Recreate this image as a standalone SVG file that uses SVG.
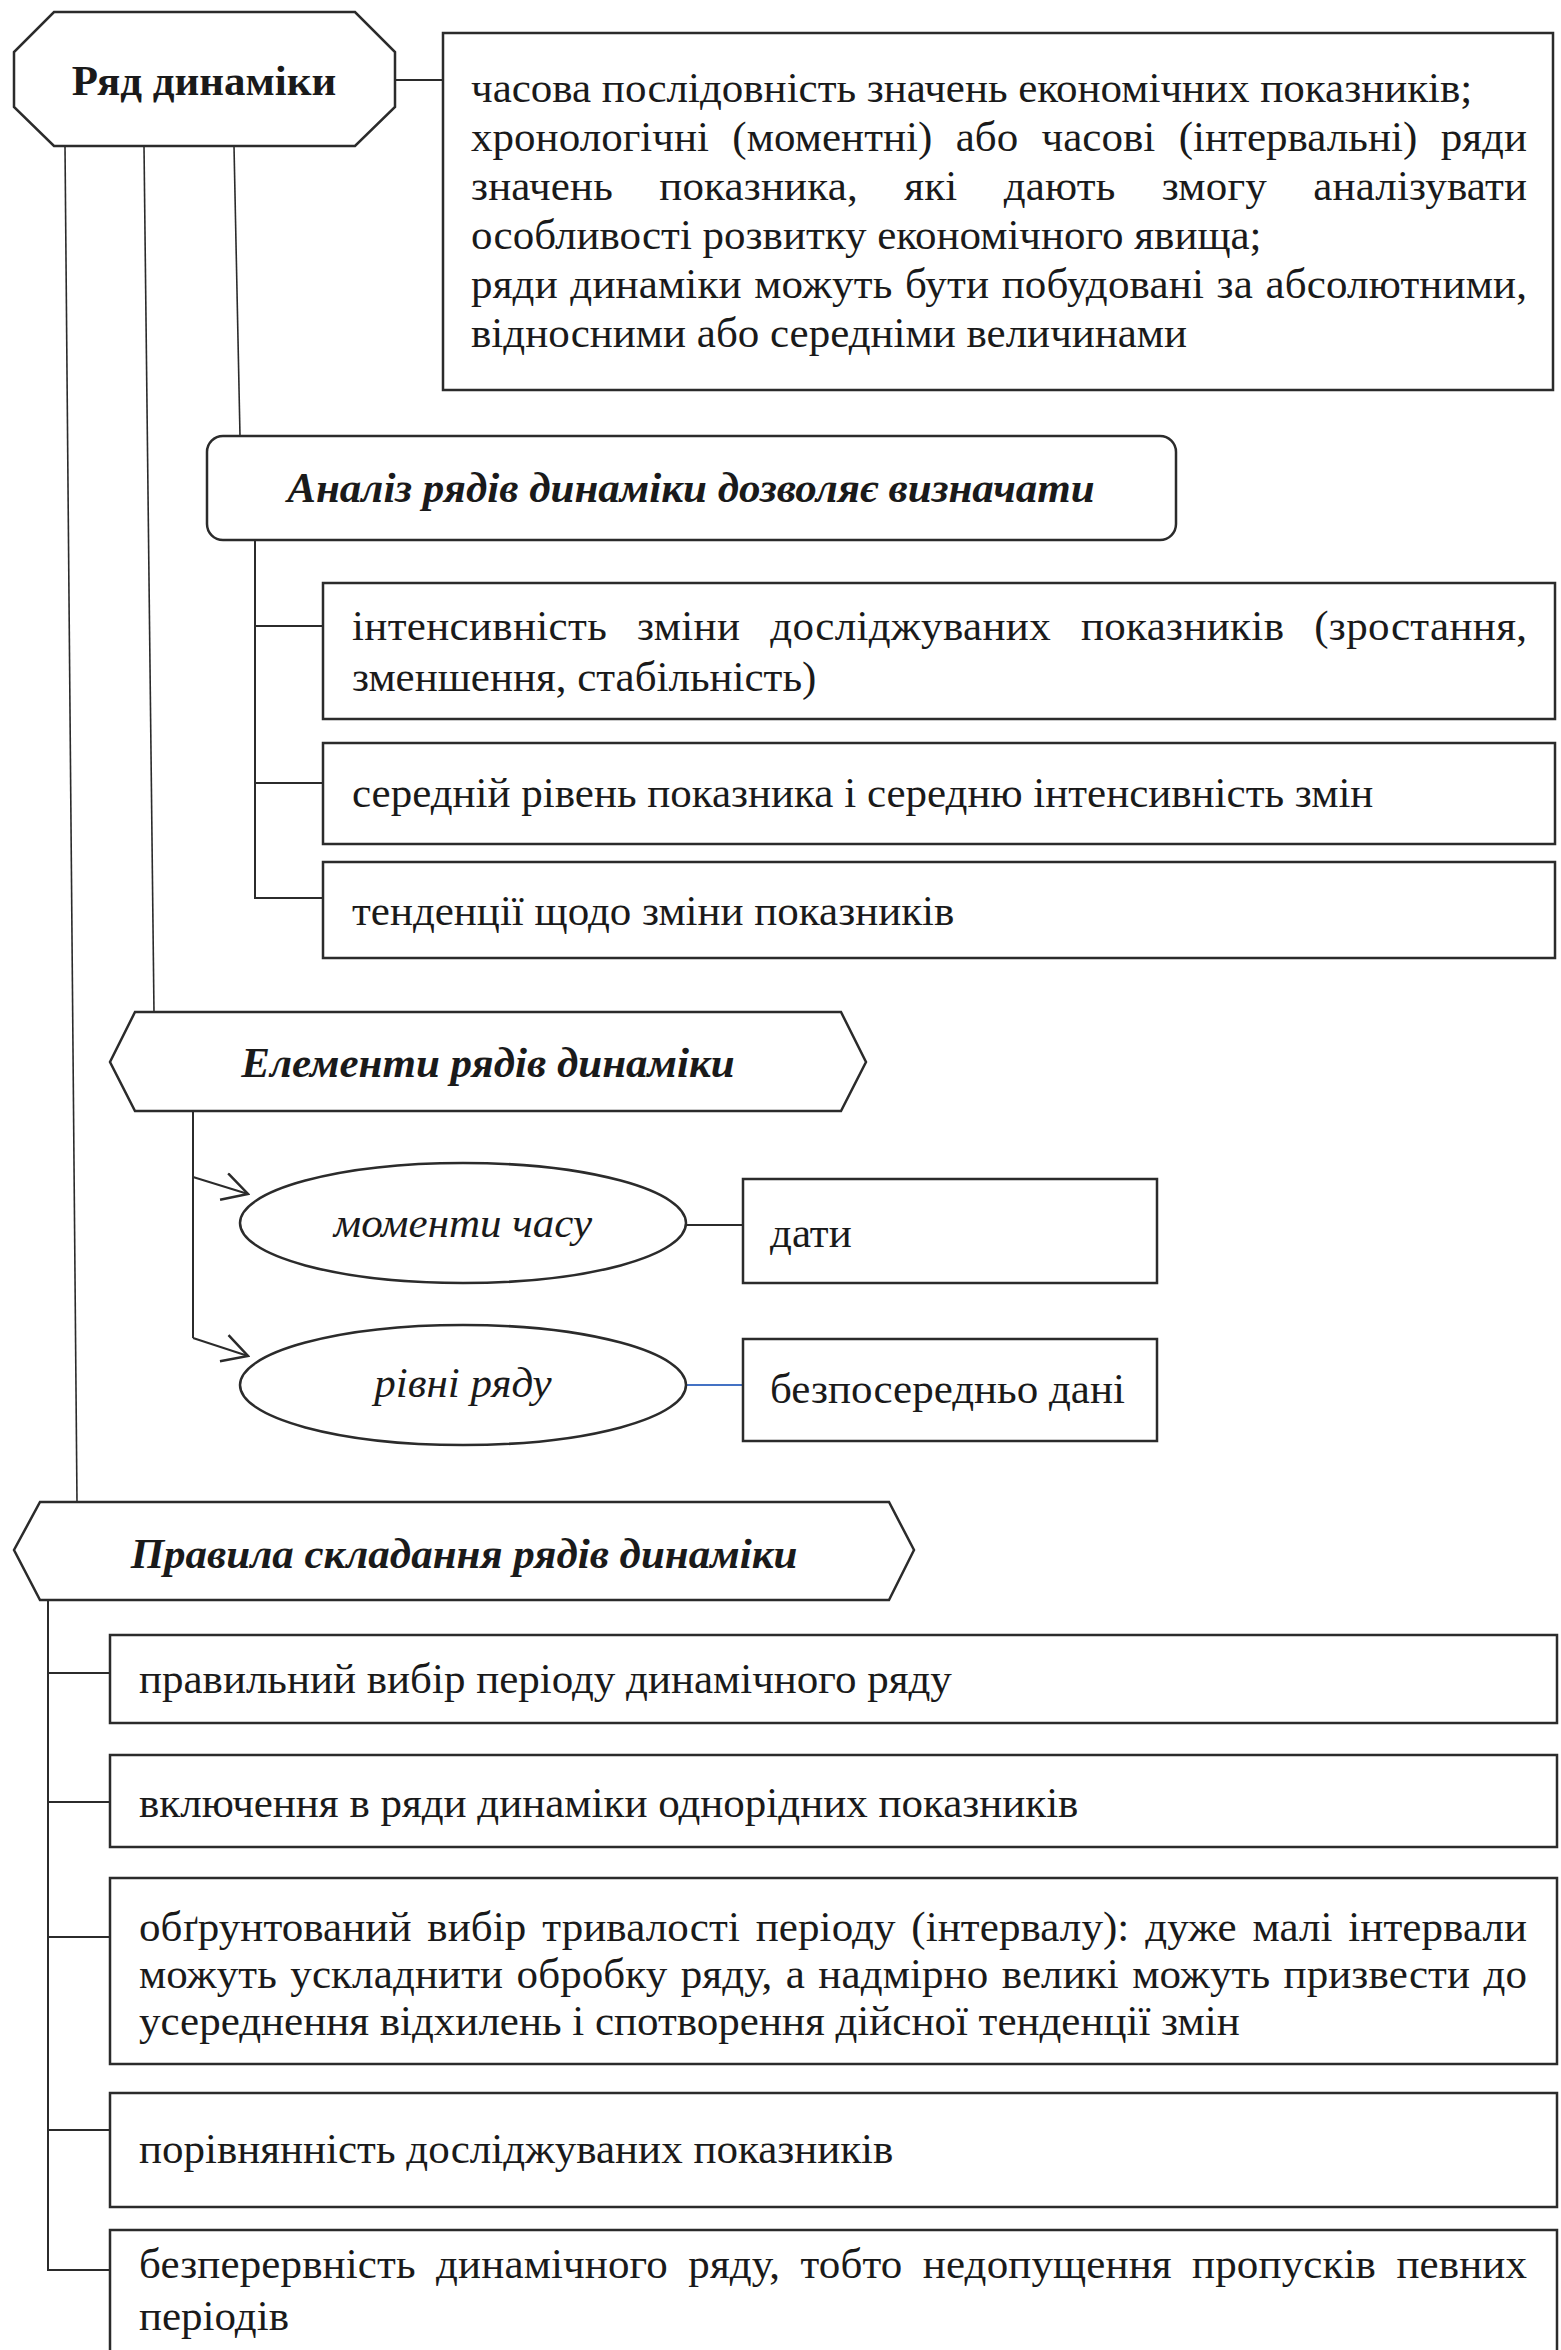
<svg xmlns="http://www.w3.org/2000/svg" width="1561" height="2350" viewBox="0 0 1561 2350">
<style>
.bg{fill:#ffffff}
.box{fill:#ffffff;stroke:#2b2b2b;stroke-width:2.5}
.con{fill:none;stroke:#2b2b2b;stroke-width:2}
.thin{fill:none;stroke:#2b2b2b;stroke-width:1.6}
.blue{fill:none;stroke:#4472c4;stroke-width:2}
text{font-family:"Liberation Serif","Times New Roman",serif;font-size:43px;fill:#1a1a1a}
.b{font-weight:bold}
.bi{font-weight:bold;font-style:italic}
.i{font-style:italic}
.c{text-anchor:middle}
</style>
<defs>
<marker id="arr" markerUnits="userSpaceOnUse" markerWidth="30" markerHeight="30" viewBox="0 0 24 24" refX="22" refY="12" orient="auto">
<path d="M2,1 L22,12 L2,23" fill="none" stroke="#2b2b2b" stroke-width="2"/>
</marker>
</defs>
<rect class="bg" x="0" y="0" width="1561" height="2350"/>

<g id="connectors">
<line class="con" x1="395" y1="80" x2="443" y2="80" stroke-width="3"/>
<line class="thin" x1="65" y1="146" x2="77" y2="1502"/>
<line class="thin" x1="144" y1="146" x2="154" y2="1012"/>
<line class="thin" x1="234" y1="146" x2="240" y2="436"/>
<path class="con" d="M255,541 L255,898 L323,898"/>
<line class="con" x1="255" y1="626" x2="323" y2="626"/>
<line class="con" x1="255" y1="783" x2="323" y2="783"/>
<path class="con" d="M193,1111 L193,1338"/>
<line class="con" x1="193" y1="1177" x2="248" y2="1194" marker-end="url(#arr)"/>
<line class="con" x1="193" y1="1338" x2="248" y2="1356" marker-end="url(#arr)"/>
<line class="con" x1="686" y1="1225" x2="743" y2="1225"/>
<line class="blue" x1="686" y1="1385" x2="743" y2="1385"/>
<path class="con" d="M48,1600 L48,2270 L110,2270"/>
<line class="con" x1="48" y1="1673" x2="110" y2="1673"/>
<line class="con" x1="48" y1="1802" x2="110" y2="1802"/>
<line class="con" x1="48" y1="1937" x2="110" y2="1937"/>
<line class="con" x1="48" y1="2130" x2="110" y2="2130"/>
</g>

<g id="ryad">
<polygon class="box" points="54,12 355,12 395,52 395,107 355,146 54,146 14,107 14,52"/>
<text class="b c" x="204" y="95">Ряд динаміки</text>
</g>

<g id="definition">
<rect class="box" x="443" y="33" width="1110" height="357"/>
<text x="471" y="102">часова послідовність значень економічних показників;</text>
<text x="471" y="151" word-spacing="12.5" textLength="1056" lengthAdjust="spacing">хронологічні (моментні) або часові (інтервальні) ряди</text>
<text x="471" y="200" word-spacing="35.4" textLength="1056" lengthAdjust="spacing">значень показника, які дають змогу аналізувати</text>
<text x="471" y="249">особливості розвитку економічного явища;</text>
<text x="471" y="298" word-spacing="1.6" textLength="1056" lengthAdjust="spacing">ряди динаміки можуть бути побудовані за абсолютними,</text>
<text x="471" y="347">відносними або середніми величинами</text>
</g>

<g id="analiz">
<rect class="box" x="207" y="436" width="969" height="104" rx="16" ry="16"/>
<text class="bi c" x="691" y="502">Аналіз рядів динаміки дозволяє визначати</text>
</g>

<g id="a1">
<rect class="box" x="323" y="583" width="1232" height="136"/>
<text x="352" y="640" word-spacing="18.8" textLength="1175" lengthAdjust="spacing">інтенсивність зміни досліджуваних показників (зростання,</text>
<text x="352" y="691">зменшення, стабільність)</text>
</g>
<g id="a2">
<rect class="box" x="323" y="743" width="1232" height="101"/>
<text x="352" y="807">середній рівень показника і середню інтенсивність змін</text>
</g>
<g id="a3">
<rect class="box" x="323" y="862" width="1232" height="96"/>
<text x="352" y="925">тенденції щодо зміни показників</text>
</g>

<g id="elementy">
<polygon class="box" points="135,1012 841,1012 866,1062 841,1111 135,1111 110,1062"/>
<text class="bi c" x="488" y="1077">Елементи рядів динаміки</text>
</g>

<g id="momenty">
<ellipse class="box" cx="463" cy="1223" rx="223" ry="60"/>
<text class="i c" x="463" y="1237">моменти часу</text>
</g>
<g id="daty">
<rect class="box" x="743" y="1179" width="414" height="104"/>
<text x="770" y="1247">дати</text>
</g>
<g id="rivni">
<ellipse class="box" cx="463" cy="1385" rx="223" ry="60"/>
<text class="i c" x="463" y="1397">рівні ряду</text>
</g>
<g id="dani">
<rect class="box" x="743" y="1339" width="414" height="102"/>
<text x="770" y="1403">безпосередньо дані</text>
</g>

<g id="pravyla">
<polygon class="box" points="40,1502 889,1502 914,1550 889,1600 40,1600 14,1550"/>
<text class="bi c" x="464" y="1568">Правила складання рядів динаміки</text>
</g>

<g id="p1">
<rect class="box" x="110" y="1635" width="1447" height="88"/>
<text x="139" y="1693">правильний вибір періоду динамічного ряду</text>
</g>
<g id="p2">
<rect class="box" x="110" y="1755" width="1447" height="92"/>
<text x="139" y="1817">включення в ряди динаміки однорідних показників</text>
</g>
<g id="p3">
<rect class="box" x="110" y="1878" width="1447" height="186"/>
<text x="139" y="1941" word-spacing="5" textLength="1388" lengthAdjust="spacing">обґрунтований вибір тривалості періоду (інтервалу): дуже малі інтервали</text>
<text x="139" y="1988" word-spacing="2.5" textLength="1388" lengthAdjust="spacing">можуть ускладнити обробку ряду, а надмірно великі можуть призвести до</text>
<text x="139" y="2035">усереднення відхилень і спотворення дійсної тенденції змін</text>
</g>
<g id="p4">
<rect class="box" x="110" y="2093" width="1447" height="114"/>
<text x="139" y="2163">порівнянність досліджуваних показників</text>
</g>
<g id="p5">
<rect class="box" x="110" y="2230" width="1447" height="130"/>
<text x="139" y="2278" word-spacing="9.5" textLength="1388" lengthAdjust="spacing">безперервність динамічного ряду, тобто недопущення пропусків певних</text>
<text x="139" y="2330">періодів</text>
</g>
</svg>
